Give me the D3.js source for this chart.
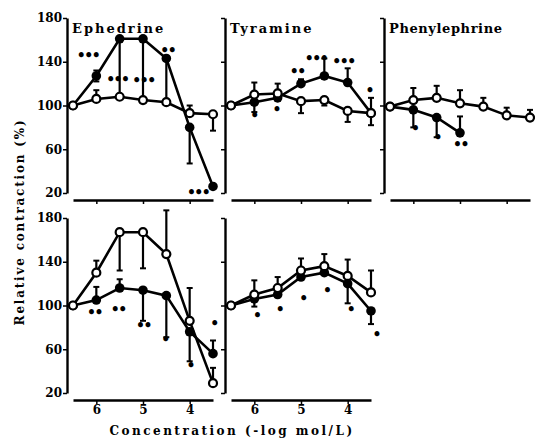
<!DOCTYPE html>
<html>
<head>
<meta charset="utf-8">
<script src="https://cdn.jsdelivr.net/npm/d3@7"></script>
<style>
  body { margin: 0; background: #fff; }
  svg { display: block; }
  text { font-family: "DejaVu Serif", serif; font-weight: bold; fill: #000; }
</style>
</head>
<body>
<div id="chart"></div>
<script>
// concentrations (-log mol/L)
var conc = [6.5, 6, 5.5, 5, 4.5, 4, 3.5];
var concShort = [6.5, 6, 5.5, 5];
var yTicks = [20, 60, 100, 140, 180];
var xTicks = [6, 5, 4];
var titles = ["Ephedrine", "Tyramine", "Phenylephrine"];

// top row, ephedrine
var ephTopOpen = [100, 106, 108, 105, 103, 93, 92];
var ephTopOpenUp = [0, 8, 0, 0, 0, 7, 0];
var ephTopOpenDown = [0, 0, 0, 0, 0, 0, 15];
var ephTopFilled = [100, 127, 161, 161, 143, 80, 26];
var ephTopFilledUp = [0, 5, 0, 0, 0, 0, 0];
var ephTopFilledDown = [0, 5, 54, 56, 40, 33, 0];
var ephTopSigX = [6.18, 5.55, 4.99, 4.47, 3.82];
var ephTopSigY = [146, 124, 123, 151, 21];
var ephTopSigText = ["***", "***", "***", "**", "***"];

// top row, tyramine
var tyrTopOpen = [100, 110, 111, 104, 105, 95, 93];
var tyrTopOpenUp = [0, 11, 9, 0, 0, 0, 0];
var tyrTopOpenDown = [0, 0, 0, 11, 5, 10, 0];
var tyrTopFilled = [100, 103, 107, 120, 127, 121, 93];
var tyrTopFilledUp = [0, 0, 0, 4, 16, 13, 14];
var tyrTopFilledDown = [0, 9, 0, 0, 0, 0, 11];
var tyrTopSigX = [6.01, 5.53, 5.08, 4.68, 4.09, 3.54];
var tyrTopSigY = [91, 97, 132, 143, 141, 114];
var tyrTopSigText = ["*", "*", "**", "***", "***", "*"];

// top row, phenylephrine
var pheOpen = [99, 105, 107, 102, 99, 91, 89];
var pheOpenUp = [0, 11, 11, 12, 8, 7, 7];
var pheOpenDown = [0, 0, 0, 0, 0, 0, 0];
var pheFilled = [99, 96, 89, 75];
var pheFilledUp = [0, 0, 0, 15];
var pheFilledDown = [0, 16, 18, 0];
var pheSigX = [5.97, 5.49, 4.99];
var pheSigY = [79, 71, 65];
var pheSigText = ["*", "*", "**"];

// bottom row, ephedrine
var ephBotOpen = [100, 130, 167, 167, 147, 86, 29];
var ephBotOpenUp = [0, 11, 0, 0, 40, 30, 14];
var ephBotOpenDown = [0, 0, 35, 33, 0, 0, 0];
var ephBotFilled = [100, 105, 116, 114, 109, 76, 56];
var ephBotFilledUp = [0, 12, 8, 0, 0, 0, 12];
var ephBotFilledDown = [0, 0, 0, 28, 38, 27, 0];
var ephBotSigX = [6.04, 5.53, 4.99, 4.53, 3.99, 3.48];
var ephBotSigY = [94, 97, 82, 69, 46, 84];
var ephBotSigText = ["**", "**", "**", "*", "*", "*"];

// bottom row, tyramine
var tyrBotOpen = [100, 110, 116, 132, 136, 127, 112];
var tyrBotOpenUp = [0, 13, 10, 11, 11, 15, 20];
var tyrBotOpenDown = [0, 0, 0, 0, 0, 0, 0];
var tyrBotFilled = [100, 106, 110, 126, 130, 120, 95];
var tyrBotFilledUp = [0, 0, 0, 0, 0, 0, 0];
var tyrBotFilledDown = [0, 7, 0, 0, 0, 18, 12];
var tyrBotSigX = [5.95, 5.46, 4.96, 4.45, 3.94, 3.39];
var tyrBotSigY = [91, 97, 107, 114, 97, 74];
var tyrBotSigText = ["*", "*", "*", "*", "*", "*"];

var width = 535, height = 438;
var colX = [67, 225, 384];
var rowTop = [18, 218];
var rowBottom = [193, 393];

var svg = d3.select("#chart")
  .append("svg")
  .attr("width", width)
  .attr("height", height);

function series(x, v, up, down) {
  return x.slice(0, v.length).map(function(c, i) {
    return { c: c, v: v[i], up: up[i], down: down[i] };
  });
}

function drawPanel(row, col, open, filled, sigX, sigY, sigText) {
  var x0 = colX[col];
  var x = d3.scaleLinear().domain([6.5, 3.5]).range([x0 + 6, x0 + 146]);
  var y = d3.scaleLinear().domain([20, 180]).range([rowBottom[row], rowTop[row]]);
  var g = svg.append("g");

  // y axis, labels only in the first column
  var yAxis = d3.axisLeft(y).tickValues(yTicks).tickSize(4).tickSizeOuter(0);
  if (col > 0) yAxis.tickFormat("");
  var ya = g.append("g")
    .attr("transform", "translate(" + x0 + ",0)")
    .call(yAxis);
  ya.select(".domain").attr("stroke-width", 2.4);
  ya.selectAll(".tick line").attr("stroke-width", 1.5);
  ya.selectAll(".tick text").attr("font-size", 12).attr("x", -5);

  // x axis sits just below the panel
  var xAxis = d3.axisBottom(x).tickValues(xTicks).tickSize(4).tickSizeOuter(0)
    .tickFormat(d3.format("d"));
  if (row === 0) xAxis.tickFormat("");
  var xa = g.append("g")
    .attr("transform", "translate(0," + (rowBottom[row] + 7) + ")")
    .call(xAxis);
  xa.select(".domain").attr("stroke-width", 2.4);
  xa.selectAll(".tick line").attr("stroke-width", 1.5);
  xa.selectAll(".tick text").attr("font-size", 12).attr("y", 5);

  if (row === 0) {
    g.append("text")
      .attr("x", x0 + 5)
      .attr("y", 33)
      .attr("font-size", 13)
      .attr("letter-spacing", col === 2 ? 0.6 : 2)
      .text(titles[col]);
  }

  var line = d3.line()
    .x(function(d) { return x(d.c); })
    .y(function(d) { return y(d.v); });

  [filled, open].forEach(function(s) {
    g.append("path")
      .datum(s)
      .attr("d", line)
      .attr("fill", "none")
      .attr("stroke", "#000")
      .attr("stroke-width", 2.6);
  });

  // error bars (one sided, as in the figure)
  open.concat(filled).forEach(function(d) {
    if (d.up > 0 || d.down > 0) {
      g.append("line")
        .attr("x1", x(d.c)).attr("x2", x(d.c))
        .attr("y1", y(d.v + d.up)).attr("y2", y(d.v - d.down))
        .attr("stroke", "#000").attr("stroke-width", 2.2);
    }
    if (d.up > 0) {
      g.append("line")
        .attr("x1", x(d.c) - 3).attr("x2", x(d.c) + 3)
        .attr("y1", y(d.v + d.up)).attr("y2", y(d.v + d.up))
        .attr("stroke", "#000").attr("stroke-width", 2);
    }
    if (d.down > 0) {
      g.append("line")
        .attr("x1", x(d.c) - 3).attr("x2", x(d.c) + 3)
        .attr("y1", y(d.v - d.down)).attr("y2", y(d.v - d.down))
        .attr("stroke", "#000").attr("stroke-width", 2);
    }
  });

  g.selectAll(".filled")
    .data(filled)
    .enter()
    .append("circle")
    .attr("cx", function(d) { return x(d.c); })
    .attr("cy", function(d) { return y(d.v); })
    .attr("r", 4.8)
    .attr("fill", "#000");

  g.selectAll(".open")
    .data(open)
    .enter()
    .append("circle")
    .attr("cx", function(d) { return x(d.c); })
    .attr("cy", function(d) { return y(d.v); })
    .attr("r", 4)
    .attr("fill", "#fff")
    .attr("stroke", "#000")
    .attr("stroke-width", 2.2);

  // significance marks
  sigX.forEach(function(c, i) {
    g.append("text")
      .attr("x", x(c))
      .attr("y", y(sigY[i]))
      .attr("text-anchor", "middle")
      .attr("dominant-baseline", "central")
      .attr("font-size", 14)
      .attr("letter-spacing", -1.5)
      .text(sigText[i].replace(/\*/g, "\u2022"));
  });
}

drawPanel(0, 0,
  series(conc, ephTopOpen, ephTopOpenUp, ephTopOpenDown),
  series(conc, ephTopFilled, ephTopFilledUp, ephTopFilledDown),
  ephTopSigX, ephTopSigY, ephTopSigText);
drawPanel(0, 1,
  series(conc, tyrTopOpen, tyrTopOpenUp, tyrTopOpenDown),
  series(conc, tyrTopFilled, tyrTopFilledUp, tyrTopFilledDown),
  tyrTopSigX, tyrTopSigY, tyrTopSigText);
drawPanel(0, 2,
  series(conc, pheOpen, pheOpenUp, pheOpenDown),
  series(concShort, pheFilled, pheFilledUp, pheFilledDown),
  pheSigX, pheSigY, pheSigText);
drawPanel(1, 0,
  series(conc, ephBotOpen, ephBotOpenUp, ephBotOpenDown),
  series(conc, ephBotFilled, ephBotFilledUp, ephBotFilledDown),
  ephBotSigX, ephBotSigY, ephBotSigText);
drawPanel(1, 1,
  series(conc, tyrBotOpen, tyrBotOpenUp, tyrBotOpenDown),
  series(conc, tyrBotFilled, tyrBotFilledUp, tyrBotFilledDown),
  tyrBotSigX, tyrBotSigY, tyrBotSigText);

// axis titles
svg.append("text")
  .attr("transform", "translate(24,222) rotate(-90)")
  .attr("text-anchor", "middle")
  .attr("font-size", 12)
  .attr("letter-spacing", 1.8)
  .text("Relative contraction (%)");

svg.append("text")
  .attr("x", 232)
  .attr("y", 435)
  .attr("text-anchor", "middle")
  .attr("font-size", 12)
  .attr("letter-spacing", 2.5)
  .text("Concentration (-log mol/L)");
</script>
</body>
</html>
